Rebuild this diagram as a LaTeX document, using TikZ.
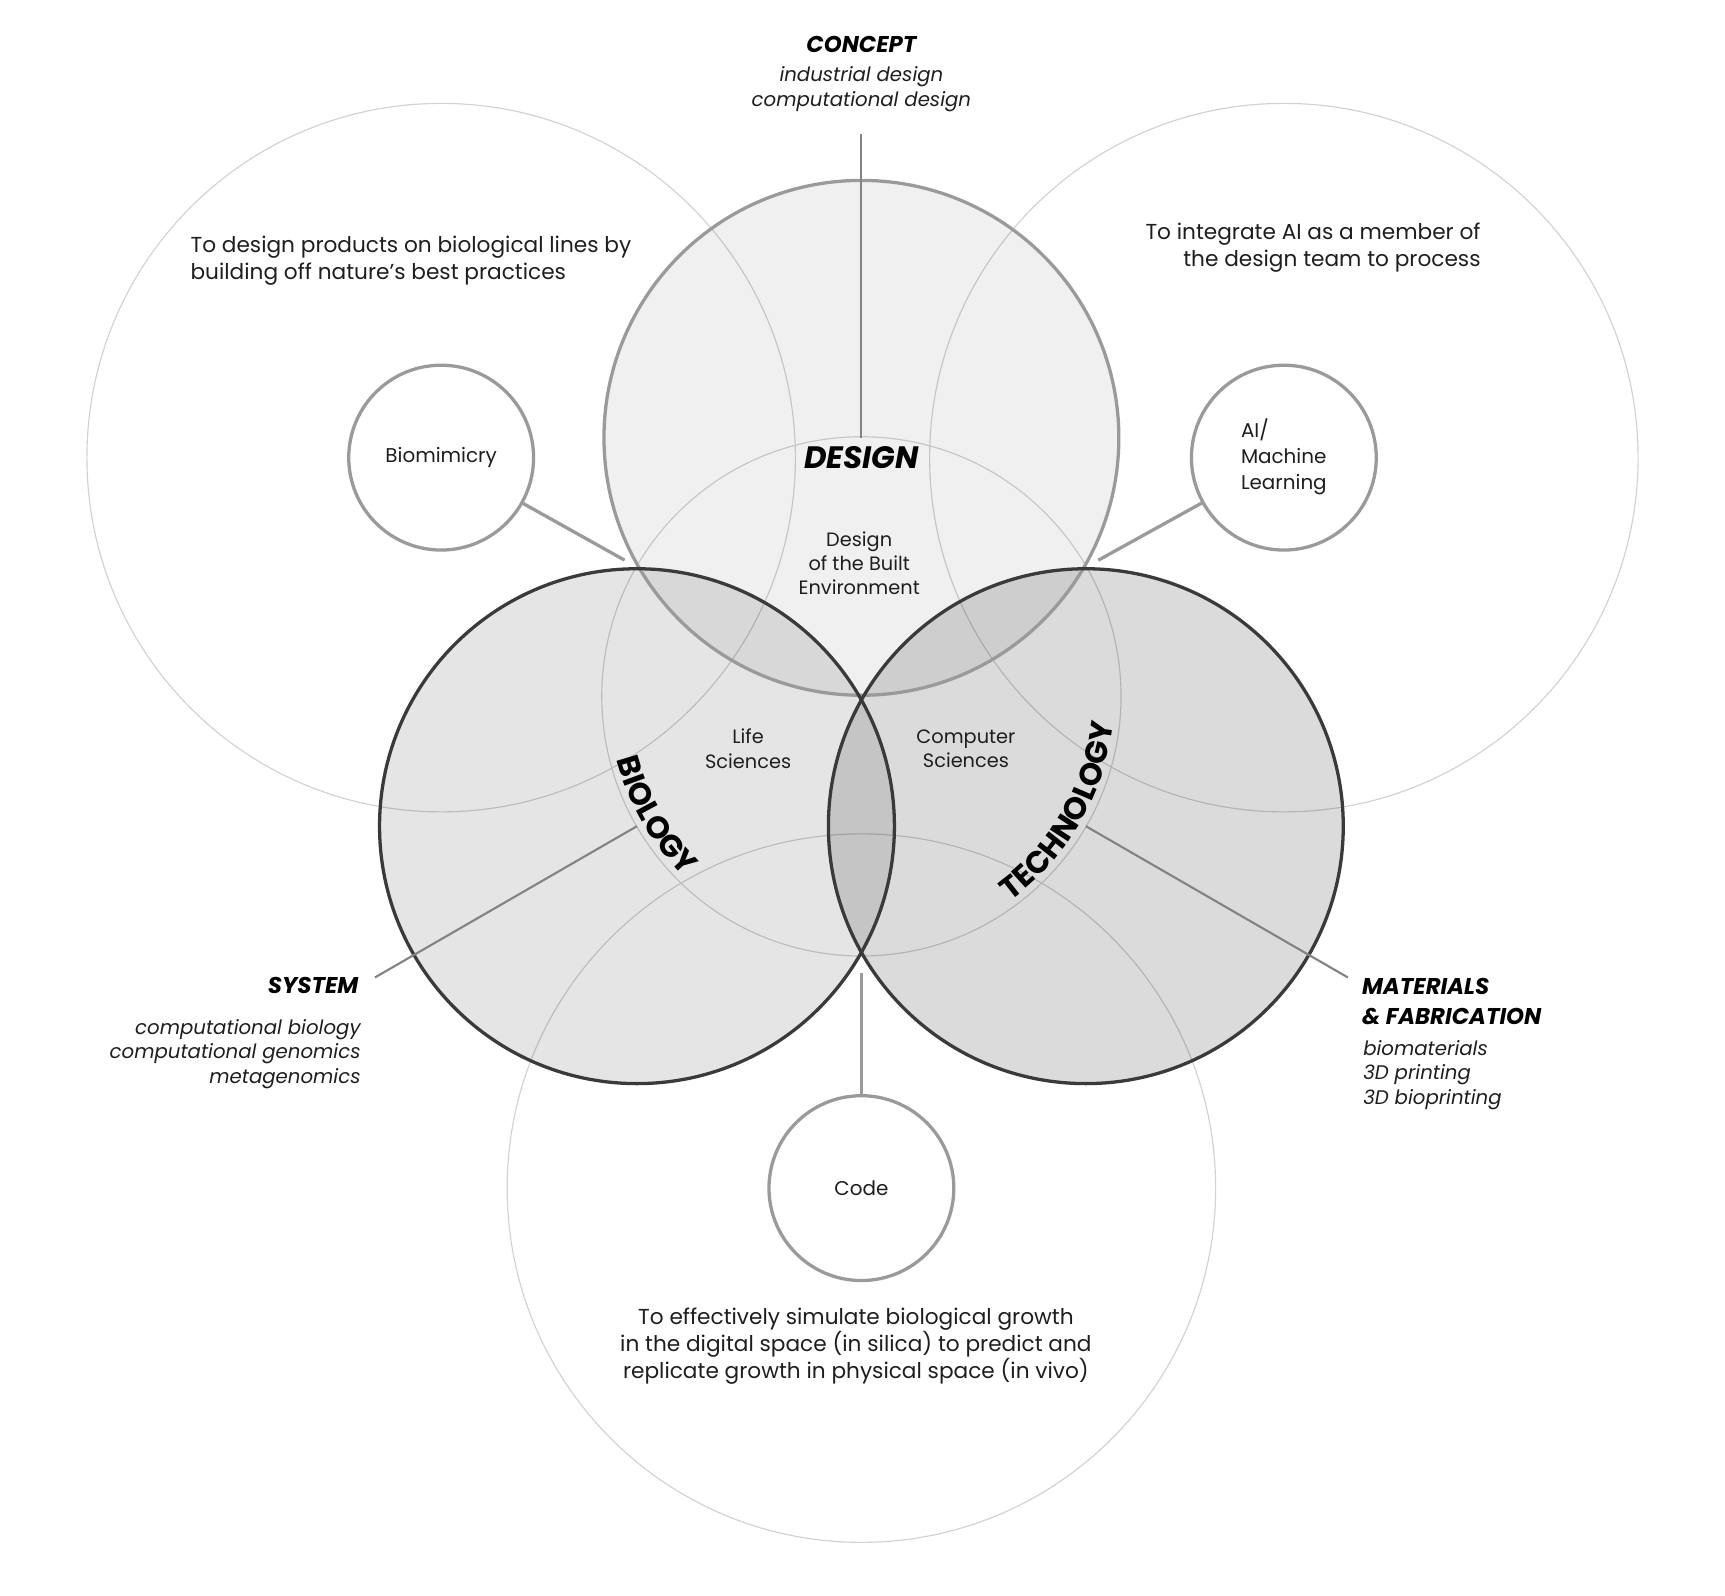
\documentclass[tikz,border=0pt]{standalone}
\usepackage{fontspec}
\setmainfont{Poppins}
\usetikzlibrary{calc,decorations.text}

\definecolor{trait}{HTML}{9A9A9A}
\definecolor{fonce}{HTML}{3A3A3A}
\definecolor{clair}{HTML}{D2D2D2}
\definecolor{texte}{HTML}{1E1E1E}

\tikzset{
  grand/.style={draw=clair, line width=0.6pt},
  petit/.style={circle, draw=trait, line width=1.7pt, fill=white, minimum size=33.6mm,
    inner sep=0pt, text=texte, font=\fontsize{10.3}{13.4}\selectfont, align=center},
  lien/.style={draw=trait, line width=1.7pt},
  fil/.style={draw=trait!85!black, line width=1.1pt},
  titre/.style={font=\fontsize{11.8}{15.4}\selectfont\bfseries\itshape, text=black},
  liste/.style={font=\fontsize{10.2}{12.6}\selectfont\itshape, text=texte},
  corps/.style={font=\fontsize{11.2}{14}\selectfont, text=texte},
  etiq/.style={font=\fontsize{10}{12.6}\selectfont, text=texte, align=center},
}

\begin{document}
\begin{tikzpicture}[x=0.2mm, y=0.2mm]
    \useasboundingbox (0,0) rectangle (1568,1450);

    % Centres
    \coordinate (centre) at (783,817);
    \coordinate (design) at (783,1052);
    \coordinate (bio) at (579,699);
    \coordinate (tech) at (987,699);
    \coordinate (gauche) at (401,1034);
    \coordinate (droite) at (1167,1034);
    \coordinate (bas) at (783,370);

    % Grands cercles
    \draw[grand] (gauche) circle[radius=322];
    \draw[grand] (droite) circle[radius=322];
    \draw[grand] (bas) circle[radius=322];
    \draw[grand] (centre) circle[radius=236];

    % Trois domaines
    \fill[black, fill opacity=0.06] (design) circle[radius=234];
    \fill[black, fill opacity=0.10] (bio) circle[radius=234];
    \fill[black, fill opacity=0.14] (tech) circle[radius=234];
    \draw[trait, line width=1.7pt] (design) circle[radius=234];
    \draw[fonce, line width=1.7pt] (bio) circle[radius=234];
    \draw[fonce, line width=1.7pt] (tech) circle[radius=234];

    % Points de rencontre
    \coordinate (db) at (581.7,933);
    \coordinate (dt) at (984.3,933);
    \coordinate (bt) at (783,584.4);

    % Petits cercles
    \node[petit] (biomim) at (gauche) {Biomimicry};
    \node[petit] (ia) at (droite) {\begin{tabular}{@{}l@{}}AI/\\Machine\\Learning\end{tabular}};
    \node[petit] (code) at (bas) {Code};

    \draw[lien, shorten >=3.2mm] (biomim) -- (db);
    \draw[lien, shorten >=3.2mm] (ia) -- (dt);
    \draw[lien, shorten >=3.8mm] (code) -- (bt);

    % Traits vers les titres
    \coordinate (conceptbout) at (783,1328);
    \coordinate (systembout) at ($(bio)+(210:275)$);
    \coordinate (materbout) at ($(tech)+(330:275)$);
    \draw[fil] (design) -- (conceptbout);
    \draw[fil] (bio) -- (systembout);
    \draw[fil] (tech) -- (materbout);

    % Textes
    \node[titre] (concept) at (783,1410) {CONCEPT};
    \node[liste, align=center] (conceptliste) at (783,1369) {industrial design\\computational design};

    \node[titre, anchor=east] (system) at (332,554) {SYSTEM};
    \node[liste, anchor=east, align=right] (systemliste) at (334,492)
        {computational biology\\computational genomics\\metagenomics};

    \node[titre, anchor=west, align=left] (mater) at (1232,539.5) {MATERIALS\\\& FABRICATION};
    \node[liste, anchor=west, align=left] (materliste) at (1233,473)
        {biomaterials\\3D printing\\3D bioprinting};

    \node[corps, anchor=west, align=left] (butgauche) at (167,1213)
        {To design products on biological lines by\\building off nature’s best practices};
    \node[corps, anchor=east, align=right] (butdroite) at (1352,1224.5)
        {To integrate AI as a member of\\the design team to process};
    \node[corps, align=center] (butbas) at (778,226.5)
        {To effectively simulate biological growth\\in the digital space (in silica) to predict and\\replicate growth in physical space (in vivo)};

    \node[font=\fontsize{16}{16}\selectfont\bfseries\itshape] (designtitre) at (783,1034) {DESIGN};
    \node[etiq] (bati) at (781,938) {Design\\of the Built\\Environment};
    \node[etiq] (vie) at (680,769.5) {Life\\Sciences};
    \node[etiq] (info) at (878,769.5) {Computer\\Sciences};

    \path[decorate, decoration={text along path, text align=center,
        text={|\fontsize{16}{16}\selectfont\bfseries|BIOLOGY}}]
        (centre) ++(175:230) arc[start angle=175, end angle=245, radius=230];
    \path[decorate, decoration={text along path, text align=center,
        text={|\fontsize{16}{16}\selectfont\bfseries|TECHNOLOGY}}]
        (centre) ++(290:230) arc[start angle=290, end angle=370, radius=230];
\end{tikzpicture}
\end{document}
